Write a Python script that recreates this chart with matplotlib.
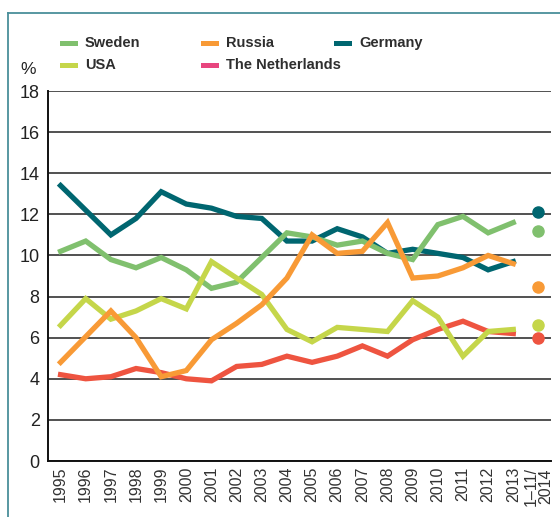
import matplotlib
matplotlib.use('Agg')
import matplotlib.pyplot as plt
from matplotlib.lines import Line2D
from matplotlib.patches import Rectangle
import numpy as np

######### data
years = list(range(1995, 2014))
partial_year = 2014
tick_labels = [str(y) for y in years] + ["1\u201311/\n2014"]

germany = [13.4, 12.2, 11.0, 11.8, 13.1, 12.5, 12.3, 11.9, 11.8, 10.7,
           10.7, 11.3, 10.9, 10.1, 10.3, 10.1, 9.9, 9.3, 9.7]
sweden = [10.2, 10.7, 9.8, 9.4, 9.9, 9.3, 8.4, 8.7, 9.9, 11.1,
          10.9, 10.5, 10.7, 10.1, 9.8, 11.5, 11.9, 11.1, 11.6]
usa = [6.6, 7.9, 6.9, 7.3, 7.9, 7.4, 9.7, 8.9, 8.1, 6.4,
       5.8, 6.5, 6.4, 6.3, 7.8, 7.0, 5.1, 6.3, 6.4]
russia = [4.8, 6.05, 7.3, 6.0, 4.1, 4.4, 5.9, 6.7, 7.6, 8.9,
          11.0, 10.1, 10.2, 11.6, 8.9, 9.0, 9.4, 10.0, 9.6]
netherlands = [4.2, 4.0, 4.1, 4.5, 4.3, 4.0, 3.9, 4.6, 4.7, 5.1,
               4.8, 5.1, 5.6, 5.1, 5.9, 6.4, 6.8, 6.3, 6.2]

# January-November 2014
partial = {"Germany": 12.1, "Sweden": 11.2, "Russia": 8.45,
           "USA": 6.6, "The Netherlands": 6.0}

######### style
C_SWE = "#80c06e"
C_RUS = "#f89a36"
C_GER = "#006670"
C_USA = "#c5d64a"
C_NED = "#ee5440"
C_NED_LEG = "#e8457e"
W, H = 560, 517

fig = plt.figure(figsize=(W / 100, H / 100), dpi=100)
ax = fig.add_axes([48 / W, 1 - 461 / H, 503 / W, 370 / H])

series = [("Germany", germany, C_GER),
          ("Sweden", sweden, C_SWE),
          ("The Netherlands", netherlands, C_NED),
          ("USA", usa, C_USA),
          ("Russia", russia, C_RUS)]
for name, vals, col in series:
    ax.plot(years, vals, color=col, lw=3.8, solid_joinstyle='miter', zorder=3)
    ax.plot([partial_year], [partial[name]], 'o', color=col, ms=8, zorder=3)

ax.set_xlim(1994.5, 2014.5)
ax.set_ylim(0, 18)
ax.set_yticks(np.arange(0, 19, 2))
ax.set_xticks(years + [partial_year])
ax.set_xticklabels(tick_labels, rotation=90, fontsize=11.5, color="#333333",
                   family='Liberation Sans', linespacing=1.0)
ax.tick_params(axis='x', length=0, pad=4)
ax.tick_params(axis='y', length=0, pad=6, labelsize=13, labelcolor="#222222")
for lbl in ax.get_yticklabels():
    lbl.set_family('Liberation Sans')
ax.yaxis.grid(True, color="#222222", lw=1.1)
ax.set_axisbelow(True)
for s in ['top', 'right']:
    ax.spines[s].set_visible(False)
for s in ['left', 'bottom']:
    ax.spines[s].set_color("#111111")
    ax.spines[s].set_linewidth(1.4)

# frame
fig.add_artist(Line2D([8 / W, 8 / W], [0, 1 - 13 / H], color="#4a8f9a", lw=1.3))
fig.add_artist(Line2D([8 / W, 1], [1 - 13 / H, 1 - 13 / H], color="#4a8f9a", lw=1.3))

fig.text(28 / W, 1 - 69 / H, "%", fontsize=12.5, family='Liberation Sans',
         color="#222222", ha='center', va='center')

# legend drawn by hand
leg = [("Sweden", C_SWE, 60, 43), ("Russia", C_RUS, 201, 43),
       ("Germany", C_GER, 334, 43), ("USA", C_USA, 60, 65),
       ("The Netherlands", C_NED_LEG, 201, 65)]
for name, col, x, y in leg:
    fig.add_artist(Rectangle((x / W, 1 - (y + 2.5) / H), 18 / W, 5 / H,
                             color=col, lw=0))
    fig.text((x + 25) / W, 1 - y / H, name, fontsize=10.5, fontweight='bold',
             family='Liberation Sans', color="#2e2e2e", va='center', ha='left')

fig.savefig("out.png", dpi=100)
